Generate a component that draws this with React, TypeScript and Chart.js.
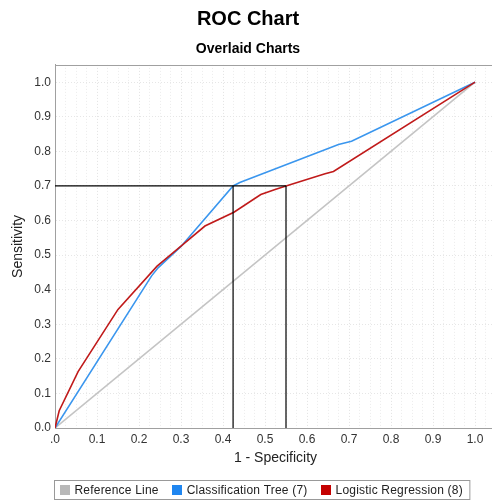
import { useEffect, useRef } from 'react';
import { Chart, registerables } from 'chart.js';

Chart.register(...registerables);

const FONT = '"Liberation Sans", Arial, sans-serif';

const chartTitle = 'ROC Chart';
const chartSubtitle = 'Overlaid Charts';
const xAxisTitle = '1 - Specificity';
const yAxisTitle = 'Sensitivity';

const xTickLabels = ['.0', '0.1', '0.2', '0.3', '0.4', '0.5', '0.6', '0.7', '0.8', '0.9', '1.0'];
const yTickLabels = ['0.0', '0.1', '0.2', '0.3', '0.4', '0.5', '0.6', '0.7', '0.8', '0.9', '1.0'];
const axisMax = 1.05;
const xMinorStep = 0.025;
const minorPerMajor = 4;

const seriesNames = ['Reference Line', 'Classification Tree (7)', 'Logistic Regression (8)'];
const seriesColors = ['#c4c4c4', '#3a96ee', '#c01a1a'];
const legendColors = ['#b8b8b8', '#1f86f0', '#c40000'];

const refFpr = [0, 1];
const refTpr = [0, 1];

const treeFpr = [0, 0.23, 0.246, 0.3, 0.424, 0.44, 0.675, 0.706, 1.0];
const treeTpr = [0, 0.44, 0.464, 0.525, 0.7, 0.71, 0.82, 0.829, 1.0];

const logFpr = [0, 0.01, 0.055, 0.15, 0.243, 0.3, 0.357, 0.426, 0.49, 0.524, 0.55, 0.643, 0.663, 1.0];
const logTpr = [0, 0.05, 0.163, 0.343, 0.468, 0.526, 0.584, 0.624, 0.675, 0.69, 0.7, 0.735, 0.742, 1.0];

const cutoffSensitivity = 0.7;
const treeCutoffFpr = 0.424;
const logCutoffFpr = 0.55;

const pts = (xs: number[], ys: number[]) => xs.map((x, i) => ({ x, y: ys[i] }));

const legendPlugin = {
  id: 'boxLegend',
  afterDraw(chart: any) {
    const ctx = chart.ctx as CanvasRenderingContext2D;
    ctx.save();
    ctx.font = `12px ${FONT}`;
    try {
      (ctx as any).letterSpacing = '0.2px';
    } catch (e) {
      /* ignore */
    }
    const sq = 10, gapSq = 5, gapItem = 13, padL = 5, padR = 7;
    const widths = seriesNames.map((n) => ctx.measureText(n).width);
    let total = padL + padR;
    widths.forEach((w, i) => {
      total += sq + gapSq + w + (i < widths.length - 1 ? gapItem : 0);
    });
    const cx = chart.width / 2;
    const left = Math.round(cx - total / 2) + 0.5;
    const top = 480.5;
    const h = 19;
    ctx.fillStyle = '#ffffff';
    ctx.fillRect(left, top, total, h);
    ctx.strokeStyle = '#999999';
    ctx.lineWidth = 1;
    ctx.strokeRect(left, top, total, h);
    let x = left + padL;
    const midY = top + h / 2;
    seriesNames.forEach((n, i) => {
      ctx.fillStyle = legendColors[i];
      ctx.fillRect(Math.round(x), Math.round(midY - sq / 2), sq, sq);
      x += sq + gapSq;
      ctx.fillStyle = '#222222';
      ctx.textBaseline = 'middle';
      ctx.textAlign = 'left';
      ctx.fillText(n, x, midY + 0.5);
      x += widths[i] + gapItem;
    });
    ctx.restore();
  },
};

const framePlugin = {
  id: 'frame',
  beforeDraw(chart: any) {
    const ctx = chart.ctx as CanvasRenderingContext2D;
    ctx.save();
    ctx.fillStyle = '#ffffff';
    ctx.fillRect(0, 0, chart.width, chart.height);
    ctx.restore();
  },
  afterDatasetsDraw(chart: any) {
    const { ctx, chartArea } = chart;
    ctx.save();
    ctx.strokeStyle = '#a0a0a0';
    ctx.lineWidth = 1;
    ctx.beginPath();
    ctx.moveTo(chartArea.left, Math.round(chartArea.top) + 0.5);
    ctx.lineTo(chartArea.right, Math.round(chartArea.top) + 0.5);
    ctx.stroke();
    ctx.restore();
  },
};

export default function App() {
  const ref = useRef<HTMLCanvasElement | null>(null);

  useEffect(() => {
    if (!ref.current) return;
    const black = { borderColor: '#000000', borderWidth: 1.2, pointRadius: 0, fill: false, tension: 0 };
    const chart = new Chart(ref.current, {
      type: 'line',
      data: {
        datasets: [
          { ...black, label: 'cut-h', data: [{ x: 0, y: cutoffSensitivity }, { x: logCutoffFpr, y: cutoffSensitivity }] },
          { ...black, label: 'cut-tree', data: [{ x: treeCutoffFpr, y: 0 }, { x: treeCutoffFpr, y: cutoffSensitivity }] },
          { ...black, label: 'cut-log', data: [{ x: logCutoffFpr, y: 0 }, { x: logCutoffFpr, y: cutoffSensitivity }] },
          { label: seriesNames[2], data: pts(logFpr, logTpr), borderColor: seriesColors[2], borderWidth: 1.6, pointRadius: 0, fill: false },
          { label: seriesNames[1], data: pts(treeFpr, treeTpr), borderColor: seriesColors[1], borderWidth: 1.6, pointRadius: 0, fill: false },
          { label: seriesNames[0], data: pts(refFpr, refTpr), borderColor: seriesColors[0], borderWidth: 1.6, pointRadius: 0, fill: false },
        ],
      },
      options: {
        responsive: false,
        animation: false,
        events: [],
        layout: { padding: { left: 0, right: 28, top: 0, bottom: 34 } },
        plugins: {
          legend: { display: false },
          tooltip: { enabled: false },
          title: {
            display: true,
            text: chartTitle,
            color: '#000000',
            font: { family: FONT, size: 20, weight: 'bold' },
            padding: { top: 7, bottom: 10.1 },
          },
          subtitle: {
            display: true,
            text: chartSubtitle,
            color: '#000000',
            font: { family: FONT, size: 14, weight: 'bold' },
            padding: { top: 0, bottom: 7 },
          },
        },
        scales: {
          x: {
            type: 'linear',
            min: 0,
            max: axisMax,
            afterBuildTicks: (s: any) => {
              const n = Math.round(axisMax / xMinorStep);
              const t = [];
              for (let i = 0; i <= n; i++) t.push({ value: i * xMinorStep });
              s.ticks = t;
            },
            afterFit: (s: any) => {
              s.height = 39;
            },
            ticks: {
              autoSkip: false,
              maxRotation: 0,
              padding: 4,
              color: '#333333',
              font: { family: FONT, size: 12 },
              callback: (_v: any, i: number) => (i % minorPerMajor === 0 ? xTickLabels[i / minorPerMajor] ?? '' : ''),
            },
            grid: {
              drawTicks: false,
              color: (c: any) => (c.index % minorPerMajor === 0 ? '#e2e2e2' : '#ececec'),
              lineWidth: 1,
            },
            border: { display: true, color: '#a0a0a0', dash: [1, 2] },
            title: {
              display: true,
              text: xAxisTitle,
              color: '#222222',
              font: { family: FONT, size: 14 },
              padding: { top: 0, bottom: 0 },
            },
          },
          y: {
            type: 'linear',
            min: 0,
            max: axisMax,
            afterBuildTicks: (s: any) => {
              s.ticks = yTickLabels.map((_l, i) => ({ value: i / 10 }));
            },
            afterFit: (s: any) => {
              s.width = 55;
            },
            ticks: {
              autoSkip: false,
              padding: 4,
              color: '#333333',
              font: { family: FONT, size: 12 },
              callback: (_v: any, i: number) => yTickLabels[i] ?? '',
            },
            grid: { drawTicks: false, color: '#e6e6e6', lineWidth: 1 },
            border: { display: true, color: '#a0a0a0', dash: [1, 2] },
            title: {
              display: true,
              text: yAxisTitle,
              color: '#222222',
              font: { family: FONT, size: 14 },
              padding: { top: 10, bottom: 0 },
            },
          },
        },
      } as any,
      plugins: [framePlugin, legendPlugin],
    });
    return () => chart.destroy();
  }, []);

  return (
    <div style={{ position: 'fixed', left: 0, top: 0, width: 492, height: 501, overflow: 'hidden', background: '#fff' }}>
      <canvas ref={ref} width={524} height={501} style={{ display: 'block', width: 524, height: 501 }} />
    </div>
  );
}
